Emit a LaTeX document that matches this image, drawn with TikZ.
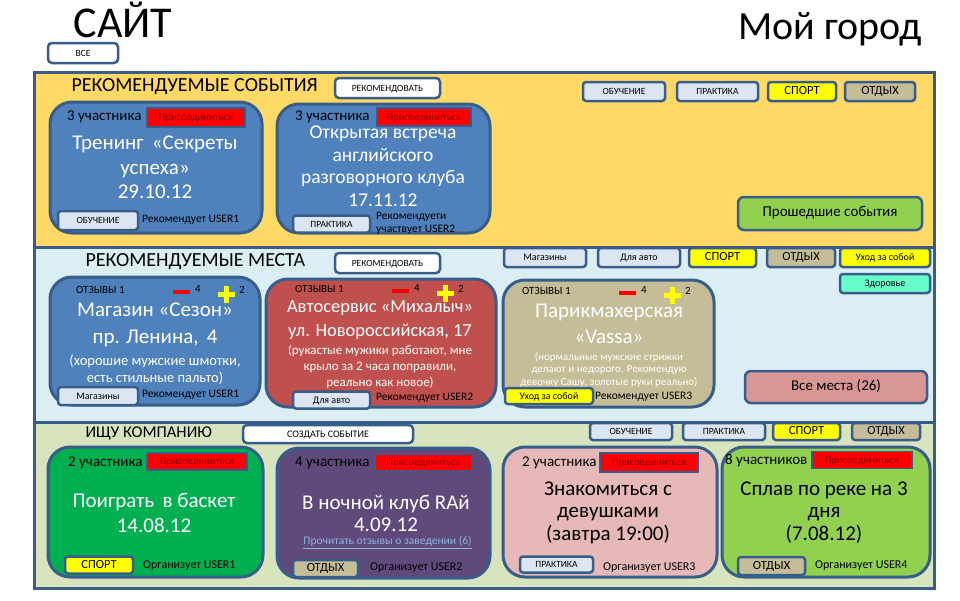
\documentclass[tikz,border=0pt]{standalone}
\usepackage{fontspec}
\setmainfont{Carlito}
\usetikzlibrary{positioning}

\definecolor{edgeblue}{HTML}{385D8A}
\definecolor{eventsyellow}{HTML}{FFD966}
\definecolor{placesblue}{HTML}{DBEEF4}
\definecolor{companyolive}{HTML}{D7E4BD}
\definecolor{cardblue}{HTML}{4F81BD}
\definecolor{cardred}{HTML}{C0504D}
\definecolor{cardtan}{HTML}{C4BD97}
\definecolor{cardpink}{HTML}{E6B9B8}
\definecolor{cardpurple}{HTML}{604A7B}
\definecolor{cardgreen}{HTML}{00B050}
\definecolor{cardlime}{HTML}{92D050}
\definecolor{taglight}{HTML}{DCE6F2}
\definecolor{tagyellow}{HTML}{FFFF00}
\definecolor{tagaqua}{HTML}{66FFCC}
\definecolor{allrose}{HTML}{D99694}
\definecolor{joinred}{HTML}{FF0000}
\definecolor{jointext}{HTML}{8B0000}
\definecolor{linkblue}{HTML}{8DB4E2}

\tikzset{
        section/.style={draw=edgeblue,line width=3pt},
        card/.style={draw=edgeblue,line width=3pt,rounded corners=22pt,inner sep=0pt},
        tagbox/.style={draw=edgeblue,line width=2.5pt,rounded corners=3pt,inner sep=0pt,text height=0.62em,text depth=0pt,fill=taglight,font=\fontsize{9.5}{11}\selectfont},
        bigtag/.style={tagbox,font=\fontsize{12.5}{14}\selectfont},
        btn/.style={draw=edgeblue,line width=2.5pt,rounded corners=4pt,inner sep=0pt,text height=0.62em,text depth=0pt,fill=white,font=\fontsize{9.5}{11}\selectfont},
        joinbox/.style={draw=edgeblue,line width=1.5pt,fill=joinred,text=jointext,inner sep=0pt,text height=0.62em,text depth=0pt,font=\fontsize{10.5}{11}\selectfont},
        heading/.style={anchor=west,font=\fontsize{20}{24}\selectfont},
        caption/.style={align=center,text=white,font=\fontsize{21}{25}\selectfont},
        note/.style={anchor=west,inner sep=0pt,font=\fontsize{11.5}{13}\selectfont},
        members/.style={anchor=west,inner sep=0pt,font=\fontsize{15}{17}\selectfont},
        reviews/.style={inner sep=0pt,font=\fontsize{11}{12}\selectfont},
}

\begin{document}
\begin{tikzpicture}[x=1pt,y=-1pt]
        \useasboundingbox[fill=white] (0,0) rectangle (960,600);
        \node[font=\fontsize{44}{50}\selectfont] (site) at (123,20) {САЙТ};
        \node[font=\fontsize{40}{46}\selectfont] (city) at (830,29) {Мой город};
        \node[btn,minimum width=70pt,minimum height=20pt] (all) at (83,53) {ВСЕ};

        \draw[section,fill=eventsyellow] (34,72) rectangle (934,247);
        \node[heading] (events) at (68,87) {РЕКОМЕНДУЕМЫЕ СОБЫТИЯ};
        \node[btn,minimum width=105pt,minimum height=20pt] (evrec) at (387.5,88) {РЕКОМЕНДОВАТЬ};
        \node[tagbox,minimum width=82pt,minimum height=19pt] (evstudy) at (624,91.5) {ОБУЧЕНИЕ};
        \node[tagbox,minimum width=81pt,minimum height=19pt] (evpractice) at (717.5,91.5) {ПРАКТИКА};
        \node[bigtag,fill=tagyellow,minimum width=68pt,minimum height=19pt] (evsport) at (802,91.5) {СПОРТ};
        \node[bigtag,fill=cardtan,minimum width=70pt,minimum height=19pt] (evrest) at (880,91.5) {ОТДЫХ};
        \node[btn,fill=cardlime,rounded corners=6pt,minimum width=184pt,minimum height=33pt,font=\fontsize{15}{17}\selectfont] (past) at (830,213.5) {Прошедшие события};

        \node[card,fill=cardblue,minimum width=212pt,minimum height=131pt] (ev1) at (156,167.5) {};
        \node[members] (ev1count) at (67,117) {3 участника};
        \node[joinbox,minimum width=98pt,minimum height=19pt] (ev1join) at (196,117.5) {Присоединиться};
        \node[caption,font=\fontsize{21}{24.5}\selectfont] (ev1title) at (155,167.5) {Тренинг \,«Секреты\\успеха»\\29.10.12};
        \node[tagbox,minimum width=80pt,minimum height=19pt] (ev1tag) at (98,220.5) {ОБУЧЕНИЕ};
        \node[note] (ev1by) at (142,220) {Рекомендует USER1};

        \node[card,fill=cardblue,minimum width=213pt,minimum height=129pt] (ev2) at (383.5,168.5) {};
        \node[members] (ev2count) at (295,117) {3 участника};
        \node[joinbox,minimum width=94pt,minimum height=18pt] (ev2join) at (424,117) {Присоединиться};
        \node[caption,font=\fontsize{19.5}{22.5}\selectfont] (ev2title) at (383,166) {Открытая встреча\\английского\\разговорного клуба\\17.11.12};
        \node[tagbox,minimum width=77pt,minimum height=17pt] (ev2tag) at (331.5,224) {ПРАКТИКА};
        \node[note,align=left] (ev2by) at (376,223) {Рекомендуети\\участвует USER2};

        \draw[section,fill=placesblue] (34,247) rectangle (934,422);
        \node[heading] (places) at (82,262) {РЕКОМЕНДУЕМЫЕ МЕСТА};
        \node[btn,minimum width=105pt,minimum height=20pt] (plrec) at (387.5,263) {РЕКОМЕНДОВАТЬ};
        \node[tagbox,font=\fontsize{10}{11}\selectfont,minimum width=82pt,minimum height=19pt] (plshops) at (545,257.5) {Магазины};
        \node[tagbox,font=\fontsize{10}{11}\selectfont,minimum width=82pt,minimum height=19pt] (plcars) at (639,257.5) {Для авто};
        \node[bigtag,fill=tagyellow,minimum width=67pt,minimum height=19pt] (plsport) at (722.5,257.5) {СПОРТ};
        \node[bigtag,fill=cardtan,minimum width=68pt,minimum height=19pt] (plrest) at (801,257.5) {ОТДЫХ};
        \node[tagbox,fill=tagyellow,font=\fontsize{10}{11}\selectfont,minimum width=90pt,minimum height=19pt] (plcare) at (885,257.5) {Уход за собой};
        \node[tagbox,fill=tagaqua,font=\fontsize{10}{11}\selectfont,minimum width=90pt,minimum height=19pt] (plhealth) at (885,283.5) {Здоровье};
        \node[btn,fill=allrose,rounded corners=6pt,minimum width=182pt,minimum height=32pt,font=\fontsize{15}{17}\selectfont] (allplaces) at (836,387) {Все места (26)};

        \node[card,fill=cardblue,minimum width=210pt,minimum height=128pt] (pl1) at (155,341) {};
        \node[card,fill=cardred,minimum width=230pt,minimum height=128pt] (pl2) at (381,343) {};
        \node[card,fill=cardtan,minimum width=211pt,minimum height=127pt] (pl3) at (608.5,343.5) {};
        \foreach \mx/\my/\name in {173/291.5/pl1, 392/291/pl2, 619/293/pl3} {
                \node[reviews,anchor=west] (\name-rev) at (\mx-97,\my-2) {ОТЗЫВЫ 1};
                \fill[joinred] (\mx,\my-2) rectangle (\mx+17,\my+2);
                \node[reviews] (\name-down) at (\mx+25,\my-3) {4};
                \fill[tagyellow] (\mx+45,\my) rectangle (\mx+62,\my+5);
                \fill[tagyellow] (\mx+51,\my-6) rectangle (\mx+56,\my+11);
                \node[reviews] (\name-up) at (\mx+69,\my-2) {2};
        }
        \node[caption,font=\fontsize{21}{27}\selectfont] (pl1name) at (155,324.5) {Магазин «Сезон»\\пр. Ленина, \,4};
        \node[caption,font=\fontsize{14.5}{17}\selectfont] (pl1text) at (155,369.5) {(хорошие мужские шмотки,\\есть стильные пальто)};
        \node[tagbox,font=\fontsize{10}{11}\selectfont,minimum width=80pt,minimum height=18pt] (pl1tag) at (98,396) {Магазины};
        \node[note] (pl1by) at (142,395) {Рекомендует USER1};

        \node[caption,font=\fontsize{18.5}{24}\selectfont] (pl2name) at (380,320) {Автосервис «Михалыч»\\ул. Новороссийская, 17};
        \node[caption,font=\fontsize{13}{16}\selectfont] (pl2text) at (380,367) {(рукастые мужики работают, мне\\крыло за 2 часа поправили,\\реально как новое)};
        \node[tagbox,font=\fontsize{10}{11}\selectfont,minimum width=77pt,minimum height=17pt] (pl2tag) at (331.5,400) {Для авто};
        \node[note] (pl2by) at (376,398) {Рекомендует USER2};

        \node[caption,font=\fontsize{21}{26}\selectfont] (pl3name) at (609,324) {Парикмахерская\\«Vassa»};
        \node[caption,font=\fontsize{11}{12.5}\selectfont] (pl3text) at (609,369.5) {(нормальные мужские стрижки\\делают и недорого. Рекомендую\\девочку Сашу, золотые руки реально)};
        \node[tagbox,fill=tagyellow,font=\fontsize{10}{11}\selectfont,minimum width=88pt,minimum height=16pt] (pl3tag) at (549,396) {Уход за собой};
        \node[note] (pl3by) at (595,397) {Рекомендует USER3};

        \draw[section,fill=companyolive] (34,422) rectangle (934,588);
        \node[heading,font=\fontsize{16.5}{19}\selectfont] (company) at (82,433) {ИЩУ КОМПАНИЮ};
        \node[btn,font=\fontsize{10}{11}\selectfont,minimum width=170pt,minimum height=18pt] (create) at (328,434) {СОЗДАТЬ СОБЫТИЕ};
        \node[tagbox,minimum width=82pt,minimum height=17pt] (costudy) at (631,431.5) {ОБУЧЕНИЕ};
        \node[tagbox,minimum width=82pt,minimum height=17pt] (copractice) at (724,431.5) {ПРАКТИКА};
        \node[bigtag,fill=tagyellow,minimum width=67pt,minimum height=17pt] (cosport) at (806.5,431.5) {СПОРТ};
        \node[bigtag,fill=cardtan,minimum width=68pt,minimum height=17pt] (corest) at (886,431.5) {ОТДЫХ};

        \node[card,fill=cardgreen,minimum width=215pt,minimum height=130pt] (co1) at (155.5,512) {};
        \node[members] (co1count) at (68,463) {2 участника};
        \node[joinbox,minimum width=100pt,minimum height=17pt] (co1join) at (197,461.5) {Присоединиться};
        \node[caption] (co1title) at (154,512.5) {Поиграть \,в баскет\\14.08.12};
        \node[bigtag,fill=tagyellow,minimum width=68pt,minimum height=17pt] (co1tag) at (99,565) {СПОРТ};
        \node[note,font=\fontsize{12}{13}\selectfont] (co1by) at (143,566) {Организует USER1};

        \node[card,fill=cardpurple,minimum width=213pt,minimum height=130pt] (co2) at (383.5,513) {};
        \node[members] (co2count) at (295,463) {4 участника};
        \node[joinbox,minimum width=97pt,minimum height=16pt] (co2join) at (423.5,462.5) {Присоединиться};
        \node[caption,font=\fontsize{21}{22}\selectfont] (co2title) at (386,513) {В ночной клуб RAй\\4.09.12};
        \node[inner sep=0pt,text=linkblue,font=\fontsize{11.5}{13}\selectfont] (co2link) at (387.5,542.5) {\underline{Прочитать отзывы о заведении (6)}};
        \node[bigtag,fill=cardtan,minimum width=65pt,minimum height=17pt] (co2tag) at (325.5,568.5) {ОТДЫХ};
        \node[note,font=\fontsize{12}{13}\selectfont] (co2by) at (370,568) {Организует USER2};

        \node[card,fill=cardpink,minimum width=214pt,minimum height=130pt] (co3) at (610,512) {};
        \node[members] (co3count) at (522,463) {2 участника};
        \node[joinbox,minimum width=98pt,minimum height=19pt] (co3join) at (649,462.5) {Присоединиться};
        \node[caption,text=black,font=\fontsize{21}{22.5}\selectfont] (co3title) at (608,512.5) {Знакомиться с\\девушками\\(завтра 19:00)};
        \node[tagbox,minimum width=73pt,minimum height=16pt] (co3tag) at (556.5,564.5) {ПРАКТИКА};
        \node[note,font=\fontsize{12}{13}\selectfont] (co3by) at (603,568) {Организует USER3};

        \node[card,fill=cardlime,minimum width=208pt,minimum height=130pt] (co4) at (826,512) {};
        \node[members] (co4count) at (725,461) {8 участников};
        \node[joinbox,minimum width=100pt,minimum height=17pt] (co4join) at (862,460) {Присоединиться};
        \node[caption,text=black,font=\fontsize{21}{22.5}\selectfont] (co4title) at (824,512.5) {Сплав по реке на 3\\дня\\(7.08.12)};
        \node[bigtag,fill=cardtan,minimum width=67pt,minimum height=18pt] (co4tag) at (771.5,566) {ОТДЫХ};
        \node[note,font=\fontsize{12}{13}\selectfont] (co4by) at (815,566) {Организует USER4};
\end{tikzpicture}
\end{document}
